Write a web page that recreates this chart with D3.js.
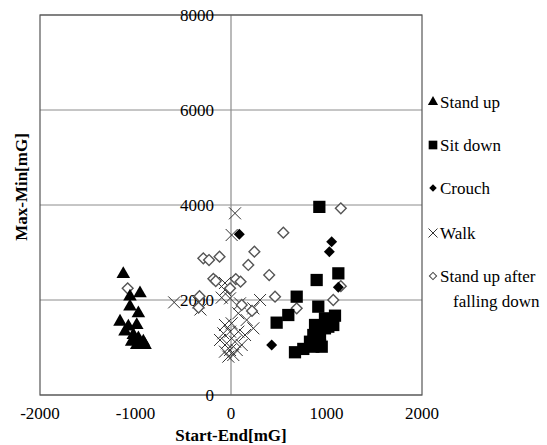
<!DOCTYPE html>
<html>
<head>
<meta charset="utf-8">
<script src="https://cdn.jsdelivr.net/npm/d3@7"></script>
<style>
body { margin: 0; background: #fff; }
svg text { font-family: "Liberation Serif", "DejaVu Serif", "Times New Roman", Times, serif; fill: #000; }
</style>
</head>
<body>
<svg width="547" height="445" font-family="Liberation Serif, DejaVu Serif, serif"></svg>
<script>
// [Start-End, Max-Min] in mG
var standUp = [[-1128,2547],[-953,2141],[-1058,2070],[-1058,1860],[-970,1720],[-1162,1543],
  [-1075,1438],[-987,1474],[-1110,1333],[-1023,1263],[-970,1193],[-918,1122],[-1040,1122],
  [-987,1053],[-900,1053]];
var sitDown = [[925,3960],[897,2421],[1124,2561],[688,2070],[600,1684],[478,1523],[914,1860],
  [1089,1670],[1071,1474],[984,1614],[880,1474],[984,1404],[1019,1438],[862,1263],[932,1228],
  [932,1053],[827,1122],[757,970],[670,900],[862,1017],[950,1017]];
var crouch = [[87,3383],[1054,3228],[1030,3017],[1124,2267],[426,1053]];
var walk = [[42,3825],[7,3368],[-63,2358],[-63,2210],[-97,2050],[-10,2035],[94,1930],[-595,1950],
  [304,2000],[234,1825],[234,1404],[77,1720],[164,1579],[-63,1474],[7,1509],[-80,1298],
  [-10,1333],[77,1333],[147,1263],[-115,1158],[-45,1088],[42,1122],[112,1053],[-63,912],
  [-10,947],[24,842],[-28,807],[60,947],[-340,1950],[-320,1800]];
var fallDown = [[1150,3930],[548,3417],[245,3017],[-290,2877],[-230,2842],[-120,2912],[181,2737],
  [400,2526],[-185,2445],[-160,2400],[50,2440],[100,2386],[461,2070],[-10,2246],[1071,2000],
  [1150,2290],[688,1825],[112,1895],[220,1770],[-1082,2246],[-330,2080],[-340,1840]];

var xTicks = [-2000, -1000, 0, 1000, 2000];
var yTicks = [0, 2000, 4000, 6000, 8000];
var legendNames = ["Stand up", "Sit down", "Crouch", "Walk", "Stand up after|falling down"];

var x = d3.scaleLinear().domain([-2000, 2000]).range([40, 422]);
var y = d3.scaleLinear().domain([0, 8000]).range([395, 15]);

var svg = d3.select("svg");

// gridlines
svg.selectAll(".hgrid")
  .data(yTicks)
  .enter().append("line")
  .attr("x1", x(-2000)).attr("x2", x(2000))
  .attr("y1", d => y(d)).attr("y2", d => y(d))
  .attr("stroke", "#8c8c8c").attr("stroke-width", 1);

svg.append("line")
  .attr("x1", x(0)).attr("x2", x(0))
  .attr("y1", y(0)).attr("y2", y(8000))
  .attr("stroke", "#8c8c8c").attr("stroke-width", 1.2);

// plot frame
svg.append("rect")
  .attr("x", x(-2000)).attr("y", y(8000))
  .attr("width", x(2000) - x(-2000)).attr("height", y(0) - y(8000))
  .attr("fill", "none").attr("stroke", "#555").attr("stroke-width", 1.2);

// tick labels
svg.selectAll(".ytick")
  .data(yTicks)
  .enter().append("text")
  .attr("x", x(0) - 17).attr("y", d => y(d))
  .attr("dy", "0.35em")
  .attr("text-anchor", "end")
  .style("font-size", "17px")
  .text(d => d);

svg.selectAll(".xtick")
  .data(xTicks)
  .enter().append("text")
  .attr("x", d => x(d)).attr("y", 413)
  .attr("dy", "0.35em")
  .attr("text-anchor", "middle")
  .style("font-size", "17px")
  .text(d => d);

// axis titles
svg.append("text")
  .attr("x", x(0)).attr("y", 435)
  .attr("dy", "0.35em")
  .attr("text-anchor", "middle")
  .style("font-size", "17px").style("font-weight", "bold")
  .text("Start-End[mG]");

svg.append("text")
  .attr("transform", "translate(21,187) rotate(-90)")
  .attr("dy", "0.35em")
  .attr("text-anchor", "middle")
  .style("font-size", "17px").style("font-weight", "bold")
  .text("Max-Min[mG]");

// marker shapes
function triangle(s) { return d3.symbol().type(d3.symbolTriangle).size(s)(); }
function square(s) { return d3.symbol().type(d3.symbolSquare).size(s)(); }
function cross(r) { return "M" + (-r) + "," + (-r) + "L" + r + "," + r + "M" + (-r) + "," + r + "L" + r + "," + (-r); }

var plot = svg.append("g");

plot.selectAll(".walk")
  .data(walk)
  .enter().append("path")
  .attr("d", cross(6))
  .attr("transform", d => "translate(" + x(d[0]) + "," + y(d[1]) + ")")
  .attr("fill", "none").attr("stroke", "#333").attr("stroke-width", 1);

plot.selectAll(".fall")
  .data(fallDown)
  .enter().append("path")
  .attr("d", square(58))
  .attr("transform", d => "translate(" + x(d[0]) + "," + y(d[1]) + ") rotate(45)")
  .attr("fill", "#fff").attr("stroke", "#555").attr("stroke-width", 1.4);

plot.selectAll(".stand")
  .data(standUp)
  .enter().append("path")
  .attr("d", triangle(80))
  .attr("transform", d => "translate(" + x(d[0]) + "," + y(d[1]) + ")")
  .attr("fill", "#000");

plot.selectAll(".sit")
  .data(sitDown)
  .enter().append("path")
  .attr("d", square(150))
  .attr("transform", d => "translate(" + x(d[0]) + "," + y(d[1]) + ")")
  .attr("fill", "#000");

plot.selectAll(".crouch")
  .data(crouch)
  .enter().append("path")
  .attr("d", square(60))
  .attr("transform", d => "translate(" + x(d[0]) + "," + y(d[1]) + ") rotate(45)")
  .attr("fill", "#000");

// legend
var legY = [102, 145, 188, 233, 276];
var leg = svg.append("g");

legendNames.forEach(function(name, i) {
  var g = leg.append("g").attr("transform", "translate(433," + legY[i] + ")");
  if (i === 0) g.append("path").attr("d", triangle(45)).attr("fill", "#000");
  if (i === 1) g.append("path").attr("d", square(75)).attr("fill", "#000");
  if (i === 2) g.append("path").attr("d", square(28)).attr("transform", "rotate(45)").attr("fill", "#000");
  if (i === 3) g.append("path").attr("d", cross(4.5)).attr("fill", "none").attr("stroke", "#333").attr("stroke-width", 1);
  if (i === 4) g.append("path").attr("d", square(26)).attr("transform", "rotate(45)").attr("fill", "#fff").attr("stroke", "#444").attr("stroke-width", 1);
  var t = g.append("text").attr("x", 7).attr("dy", "0.35em").style("font-size", "17px");
  name.split("|").forEach(function(line, j) {
    t.append("tspan").attr("x", j === 0 ? 7 : 20).attr("dy", j === 0 ? "0.35em" : "1.45em").text(line);
  });
});
</script>
</body>
</html>
